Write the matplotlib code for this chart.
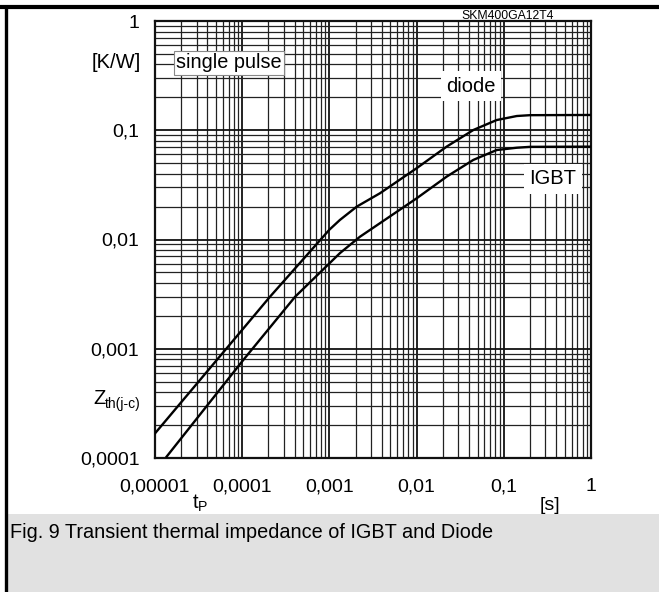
import matplotlib
matplotlib.use('Agg')
import matplotlib.pyplot as plt
from matplotlib.lines import Line2D
from matplotlib.patches import Rectangle
from matplotlib.ticker import LogLocator, FixedLocator, NullFormatter

plt.rcParams['font.family'] = ['Liberation Sans', 'DejaVu Sans']
plt.rcParams['mathtext.fontset'] = 'custom'
plt.rcParams['mathtext.rm'] = 'Liberation Sans'
plt.rcParams['mathtext.it'] = 'Liberation Sans'

# Zth(j-c) vs pulse time
t_diode = [1e-5, 1e-4, 2.08e-4, 1e-3, 1.32e-3, 2.06e-3, 3.8e-3, 0.01, 0.0221, 0.0447, 0.0828, 0.141, 0.2, 1.0]
z_diode = [1.68e-4, 1.49e-3, 2.99e-3, 0.0123, 0.0151, 0.020, 0.0265, 0.0449, 0.0708, 0.1005, 0.124, 0.135, 0.1374, 0.138]

t_igbt = [1.36e-5, 1.03e-4, 4.04e-4, 1.32e-3, 2.24e-3, 3.8e-3, 0.01, 0.0221, 0.0447, 0.0828, 0.141, 0.2, 1.0]
z_igbt = [1.03e-4, 7.9e-4, 2.99e-3, 7.5e-3, 0.0106, 0.0141, 0.0238, 0.0376, 0.0535, 0.0659, 0.0692, 0.0705, 0.0708]

x_ticks = [1e-5, 1e-4, 1e-3, 1e-2, 1e-1, 1]
x_labels = ['0,00001', '0,0001', '0,001', '0,01', '0,1', '1']
y_ticks = [1e-4, 1e-3, 1e-2, 1e-1, 1]
y_labels = ['0,0001', '0,001', '0,01', '0,1', '1']

W, H = 659, 592
fig = plt.figure(figsize=(W / 100, H / 100), dpi=100)


def px(x, y):
    # pixel position (from top-left) -> figure fraction
    return x / W, 1 - y / H


# grey caption band and the black frame
fig.add_artist(Rectangle(px(7, 592), (W - 7) / W, (592 - 514) / H, transform=fig.transFigure,
                         facecolor='#e1e1e1', edgecolor='none', zorder=0))
fig.add_artist(Line2D([0, 1], [1 - 6.5 / H] * 2, transform=fig.transFigure, color='black', lw=3.0))
fig.add_artist(Line2D([5.5 / W] * 2, [0, 1 - 6.5 / H], transform=fig.transFigure, color='black', lw=2.4))

ax = fig.add_axes([155 / W, 1 - 458 / H, (591 - 155) / W, (458 - 21) / H])
ax.set_xscale('log')
ax.set_yscale('log')
ax.set_xlim(1e-5, 1)
ax.set_ylim(1e-4, 1)

ax.plot(t_diode, z_diode, color='black', lw=1.7, zorder=5)
ax.plot(t_igbt, z_igbt, color='black', lw=1.7, zorder=5)

ax.xaxis.set_major_locator(FixedLocator(x_ticks))
ax.set_xticklabels(x_labels)
ax.yaxis.set_major_locator(FixedLocator(y_ticks))
ax.set_yticklabels(y_labels)
for a in (ax.xaxis, ax.yaxis):
    a.set_minor_locator(LogLocator(base=10, subs=range(2, 10), numticks=20))
    a.set_minor_formatter(NullFormatter())
ax.tick_params(which='both', length=0)
ax.tick_params(axis='x', pad=14.5, labelsize=14)
ax.tick_params(axis='y', pad=11.2, labelsize=14)

ax.grid(which='major', color='#111111', lw=1.3)
ax.grid(which='minor', color='#222222', lw=0.9)
ax.set_axisbelow(True)
for s in ax.spines.values():
    s.set_linewidth(1.6)
    s.set_color('#111111')

# texts around the plot
fig.text(*px(141, 63), '[K/W]', ha='right', va='center', fontsize=14.5)
fig.text(*px(93, 398), 'Z', ha='left', va='center', fontsize=14.5)
fig.text(*px(105, 404), 'th(j-c)', ha='left', va='center', fontsize=10)
fig.text(*px(200, 503), r'$\mathregular{t_P}$', ha='center', va='center', fontsize=14.5)
fig.text(*px(550, 505), '[s]', ha='center', va='center', fontsize=14)
fig.text(*px(508, 16), 'SKM400GA12T4', ha='center', va='center', fontsize=8.8)
fig.text(*px(10, 533), 'Fig. 9 Transient thermal impedance of IGBT and Diode', ha='left', va='center', fontsize=14.3)

# labels inside the grid
fig.text(*px(229, 63), 'single pulse', ha='center', va='center', fontsize=14.3, zorder=10,
         bbox=dict(facecolor='white', edgecolor='#888888', lw=0.8, boxstyle='square,pad=0.12'))
fig.text(*px(471, 86), 'diode', ha='center', va='center', fontsize=14.5, zorder=10,
         bbox=dict(facecolor='white', edgecolor='none', boxstyle='square,pad=0.25'))
fig.text(*px(553, 179), 'IGBT', ha='center', va='center', fontsize=14.5, zorder=10,
         bbox=dict(facecolor='white', edgecolor='none', boxstyle='square,pad=0.25'))

fig.savefig('out.png', dpi=100)
